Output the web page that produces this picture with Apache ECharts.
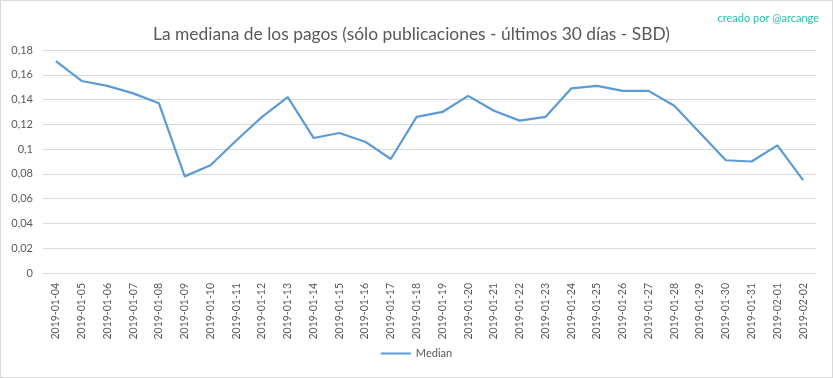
<!DOCTYPE html>
<html>
<head>
<meta charset="utf-8">
<script src="https://cdn.jsdelivr.net/npm/echarts@6/dist/echarts.min.js"></script>
<style>
  html, body { margin: 0; padding: 0; background: #fff; }
  #chart { width: 833px; height: 378px; box-sizing: border-box; border: 1px solid #d9d9d9; }
</style>
</head>
<body>
<div id="chart"></div>
<script>
const dates = [
  '2019-01-04', '2019-01-05', '2019-01-06', '2019-01-07', '2019-01-08', '2019-01-09',
  '2019-01-10', '2019-01-11', '2019-01-12', '2019-01-13', '2019-01-14', '2019-01-15',
  '2019-01-16', '2019-01-17', '2019-01-18', '2019-01-19', '2019-01-20', '2019-01-21',
  '2019-01-22', '2019-01-23', '2019-01-24', '2019-01-25', '2019-01-26', '2019-01-27',
  '2019-01-28', '2019-01-29', '2019-01-30', '2019-01-31', '2019-02-01', '2019-02-02'
]
const median = [
  0.171, 0.155, 0.151, 0.145, 0.137, 0.078,
  0.087, 0.107, 0.126, 0.142, 0.109, 0.113,
  0.106, 0.092, 0.126, 0.130, 0.143, 0.131,
  0.123, 0.126, 0.149, 0.151, 0.147, 0.147,
  0.135, 0.113, 0.091, 0.090, 0.103, 0.075
]

const chart = echarts.init(document.getElementById('chart'))

const option = {
  animation: false,
  textStyle: { fontFamily: 'Lato, "Open Sans", sans-serif' },
  title: [
    {
      text: 'La mediana de los pagos (sólo publicaciones - últimos 30 días - SBD)',
      left: 147,
      top: 20,
      textStyle: { fontSize: 17.4, fontWeight: 'normal', color: '#595959', fontFamily: 'Lato, sans-serif' }
    },
    {
      text: 'creado por @arcange',
      right: 8,
      top: 7,
      textStyle: { fontSize: 11, fontWeight: 'normal', color: '#2bc0a8', fontFamily: 'Lato, sans-serif' }
    }
  ],
  legend: {
    data: ['Median'],
    bottom: 13,
    left: 'center',
    itemWidth: 30,
    itemHeight: 2,
    icon: 'rect',
    textStyle: { fontSize: 11, color: '#595959' }
  },
  grid: {
    left: 42,
    right: 16,
    top: 49,
    bottom: 104
  },
  xAxis: {
    type: 'category',
    data: dates,
    boundaryGap: true,
    axisLine: { lineStyle: { color: '#d9d9d9' } },
    axisTick: { show: false },
    axisLabel: {
      rotate: 90,
      interval: 0,
      fontSize: 10.5,
      color: '#595959',
      margin: 10
    }
  },
  yAxis: {
    type: 'value',
    min: 0,
    max: 0.18,
    interval: 0.02,
    axisLine: { show: false },
    axisTick: { show: false },
    axisLabel: {
      fontSize: 11,
      color: '#595959',
      margin: 10,
      formatter: v => String(parseFloat(v.toFixed(2))).replace('.', ',')
    },
    splitLine: { lineStyle: { color: '#d9d9d9', width: 1 } }
  },
  series: [
    {
      name: 'Median',
      type: 'line',
      data: median,
      symbol: 'none',
      lineStyle: { color: '#5b9bd5', width: 2.2 },
      itemStyle: { color: '#5b9bd5' }
    }
  ]
}

chart.setOption(option)
</script>
</body>
</html>
